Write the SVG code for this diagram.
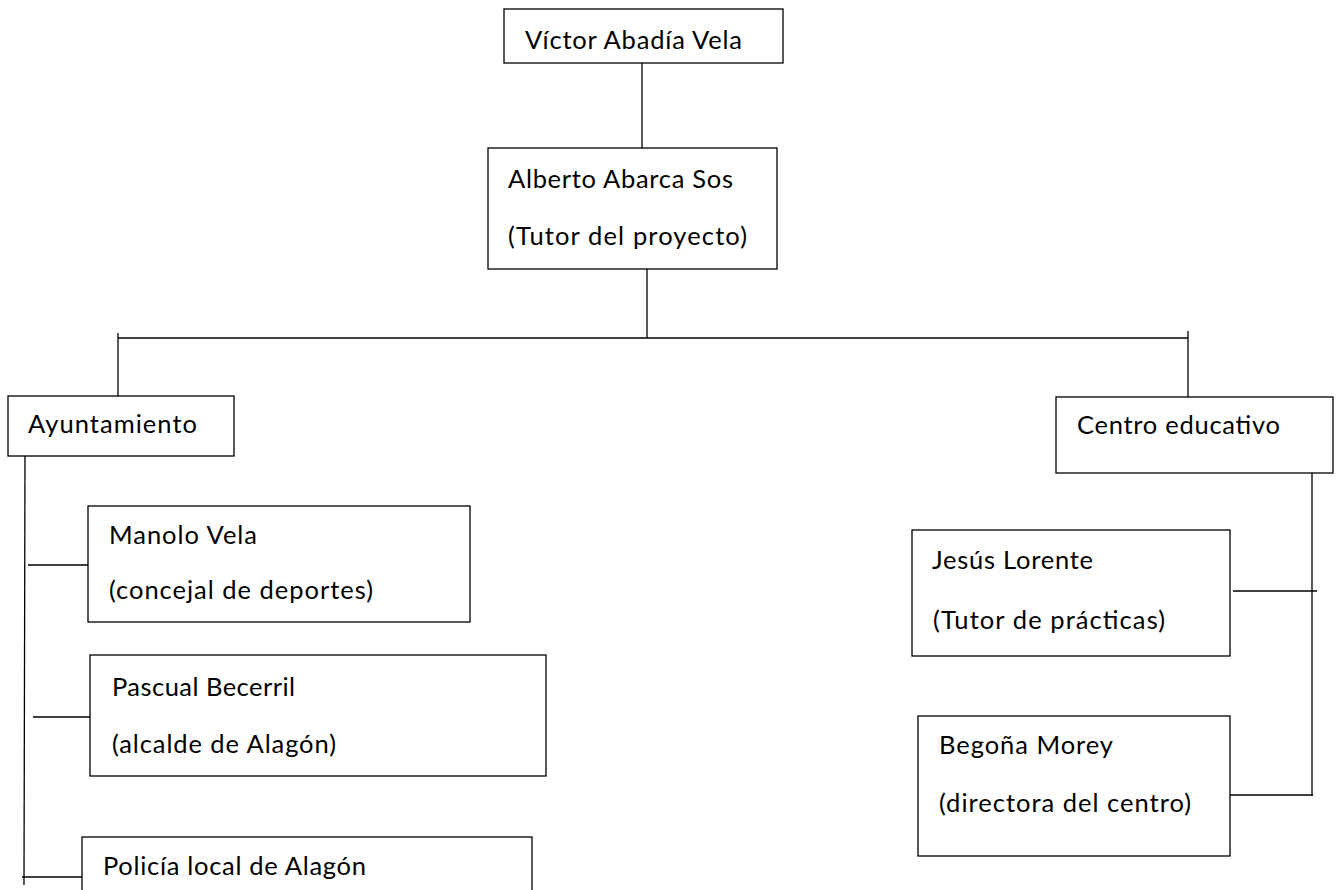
<svg xmlns="http://www.w3.org/2000/svg" width="1341" height="890" viewBox="0 0 1341 890">
<style>
.box{fill:#fff;stroke:#000;stroke-width:1.3}
.c line{stroke:#000;stroke-width:1.3}
text{font-family:Lato,"Open Sans","Liberation Sans",sans-serif;font-size:25.5px;fill:#000}
</style>
<rect width="1341" height="890" fill="#fff"/>
<g class="c" id="connectors">
<line x1="642" y1="63" x2="642" y2="148"/>
<line x1="647" y1="269" x2="647" y2="338"/>
<line x1="118" y1="338" x2="1188" y2="338"/>
<line x1="118" y1="333" x2="118" y2="402"/>
<line x1="1188" y1="331" x2="1188" y2="397"/>
<line x1="25" y1="456" x2="24" y2="885"/>
<line x1="28" y1="565" x2="88" y2="565"/>
<line x1="33" y1="717" x2="93" y2="717"/>
<line x1="22" y1="877" x2="82" y2="877"/>
<line x1="1312" y1="473" x2="1312" y2="796"/>
<line x1="1233" y1="591" x2="1317" y2="591"/>
<line x1="1230" y1="795" x2="1313" y2="795"/>
</g>
<g id="victor"><rect class="box" x="504" y="9" width="279" height="54"/><text x="525" y="49" textLength="217">Víctor Abadía Vela</text></g>
<g id="alberto"><rect class="box" x="488" y="148" width="289" height="121"/><text x="508" y="188" textLength="225">Alberto Abarca Sos</text><text x="508" y="245" textLength="239">(Tutor del proyecto)</text></g>
<g id="ayuntamiento"><rect class="box" x="8" y="396" width="226" height="60"/><text x="28" y="433" textLength="169">Ayuntamiento</text></g>
<g id="centro"><rect class="box" x="1056" y="397" width="277" height="76"/><text x="1077" y="434" textLength="203">Centro educativo</text></g>
<g id="manolo"><rect class="box" x="88" y="506" width="382" height="116"/><text x="109" y="544" textLength="148">Manolo Vela</text><text x="109" y="599" textLength="264">(concejal de deportes)</text></g>
<g id="pascual"><rect class="box" x="90" y="655" width="456" height="121"/><text x="112" y="696" textLength="183">Pascual Becerril</text><text x="112" y="753" textLength="224">(alcalde de Alagón)</text></g>
<g id="policia"><rect class="box" x="82" y="837" width="450" height="70"/><text x="103" y="875" textLength="263">Policía local de Alagón</text></g>
<g id="jesus"><rect class="box" x="912" y="530" width="318" height="126"/><text x="932" y="569" textLength="161">Jesús Lorente</text><text x="933" y="629" textLength="232">(Tutor de prácticas)</text></g>
<g id="begona"><rect class="box" x="918" y="716" width="312" height="140"/><text x="939" y="754" textLength="174">Begoña Morey</text><text x="939" y="812" textLength="252">(directora del centro)</text></g>
</svg>
